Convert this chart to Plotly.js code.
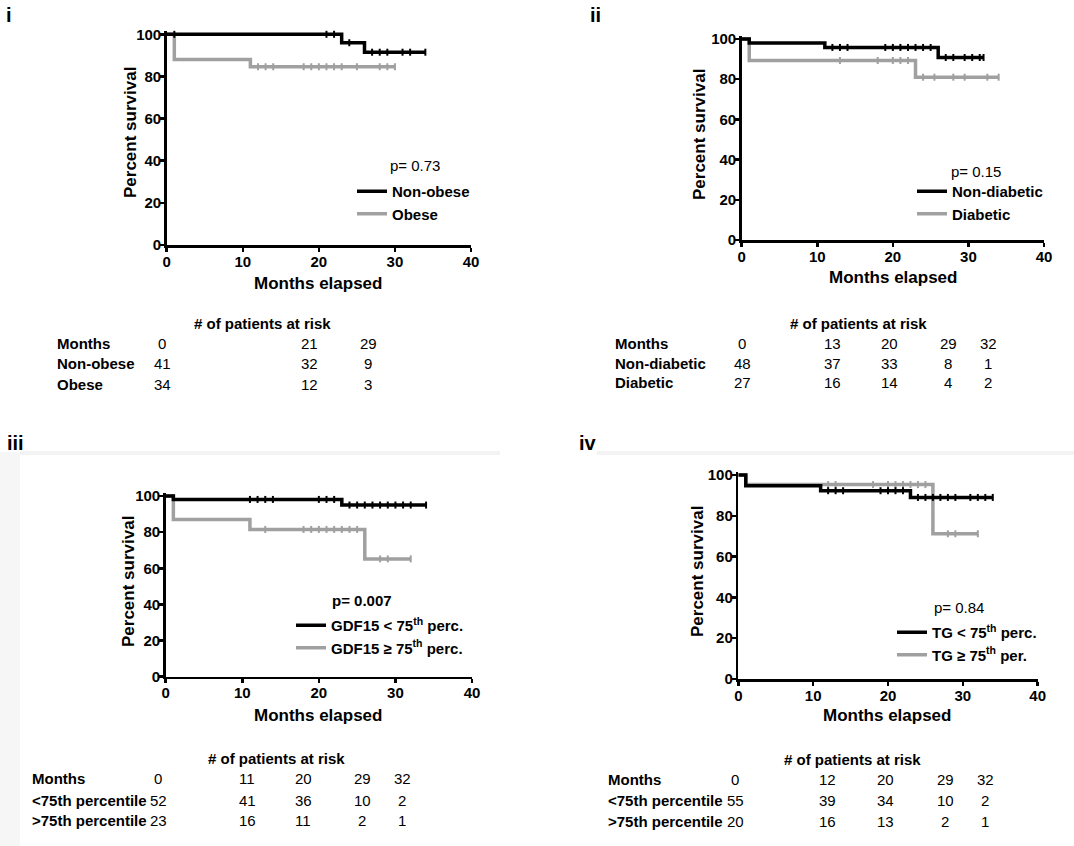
<!DOCTYPE html>
<html>
<head>
<meta charset="utf-8">
<script src="https://cdn.plot.ly/plotly-3.0.1.min.js"></script>
<style>
  html, body { margin: 0; padding: 0; background: #fff; }
  #chart { width: 1074px; height: 846px; }
</style>
</head>
<body>
<div id="chart"></div>
<script>
// ---- panel i : obesity ----
const nonObeseTimes = [0, 23, 26, 34];
const nonObeseSurv = [100, 96, 91.5, 91.5];
const nonObeseCensored = [1, 21, 22, 24, 27, 28, 29, 31, 32, 34];
const obeseTimes = [0, 1, 11, 30];
const obeseSurv = [100, 88, 84.6, 84.6];
const obeseCensored = [12, 13, 14, 18, 19, 20, 21, 22, 23, 25, 28, 29, 30];

// ---- panel ii : diabetes ----
const nonDiabTimes = [0, 1, 11, 26, 32];
const nonDiabSurv = [100, 98, 95.8, 90.8, 90.8];
const nonDiabCensored = [12, 13, 14, 19, 20, 21, 22, 23, 24, 25, 27, 28, 29.5, 30.5, 31.5, 32];
const diabTimes = [0, 1, 23, 34];
const diabSurv = [100, 89.3, 81, 81];
const diabCensored = [13, 18, 20, 21, 22, 24, 25.5, 28, 29.5, 32.5, 34];

// ---- panel iii : GDF15 ----
const gdfLowTimes = [0, 1, 23, 34];
const gdfLowSurv = [100, 98.1, 95, 95];
const gdfLowCensored = [11, 12, 13, 14, 20, 21, 22, 24, 25, 26, 27, 28, 29, 30, 31, 32, 34];
const gdfHighTimes = [0, 1, 11, 26, 32];
const gdfHighSurv = [100, 87, 81.5, 65.2, 65.2];
const gdfHighCensored = [13, 18, 19, 20, 21, 22, 23, 24, 25, 28, 29, 32];

// ---- panel iv : TG ----
const tgLowTimes = [0, 1, 11, 23, 34];
const tgLowSurv = [100, 94.7, 92.3, 89, 89];
const tgLowCensored = [12, 13, 14, 19, 20, 21, 22, 24, 25, 26, 27, 28, 29, 31, 32, 33, 34];
const tgHighTimes = [0, 1, 26, 32];
const tgHighSurv = [100, 95.3, 71.2, 71.2];
const tgHighCensored = [12, 13, 18, 20, 21, 22, 23, 24, 25, 28, 29, 32];

// ---- patients at risk tables ----
const riskMonthsI = [0, 21, 29];
const riskNonObese = [41, 32, 9];
const riskObese = [34, 12, 3];
const riskMonthsII = [0, 13, 20, 29, 32];
const riskNonDiab = [48, 37, 33, 8, 1];
const riskDiab = [27, 16, 14, 4, 2];
const riskMonthsIII = [0, 11, 20, 29, 32];
const riskGdfLow = [52, 41, 36, 10, 2];
const riskGdfHigh = [23, 16, 11, 2, 1];
const riskMonthsIV = [0, 12, 20, 29, 32];
const riskTgLow = [55, 39, 34, 10, 2];
const riskTgHigh = [20, 16, 13, 2, 1];

const W = 1074, H = 846;
const FONT = "Liberation Sans, Arial, sans-serif";
const BLACK = "#000000";
const GREY = "#a0a0a0";
const Y_PAD = 1.5; // headroom above 100 % so the top line is not clipped

// pixel -> paper helpers
const px = (x) => x / W;
const py = (y) => 1 - y / H;

function survivalAt(times, surv, t) {
  let s = surv[0];
  for (let i = 0; i < times.length; i++) {
    if (times[i] <= t) s = surv[i];
  }
  return s;
}

const data = [];

function addCurve(times, surv, censored, name, color, n, rank) {
  const ax = n === 1 ? "" : n;
  data.push({
    x: times, y: surv, name: name,
    mode: "lines", type: "scatter",
    line: { shape: "hv", color: color, width: 3.5 },
    xaxis: "x" + ax, yaxis: "y" + ax,
    legend: "legend" + ax, legendrank: rank,
    cliponaxis: false, hoverinfo: "skip",
  });
  // censored patients: small ticks on the curve
  data.push({
    x: censored, y: censored.map((t) => survivalAt(times, surv, t)),
    mode: "markers", type: "scatter", showlegend: false,
    marker: { symbol: "line-ns-open", size: 5, color: color, line: { color: color, width: 2 } },
    xaxis: "x" + ax, yaxis: "y" + ax,
    cliponaxis: false, hoverinfo: "skip",
  });
}

// grey first so black sits on top
addCurve(obeseTimes, obeseSurv, obeseCensored, "Obese", GREY, 1, 2);
addCurve(nonObeseTimes, nonObeseSurv, nonObeseCensored, "Non-obese", BLACK, 1, 1);
addCurve(diabTimes, diabSurv, diabCensored, "Diabetic", GREY, 2, 2);
addCurve(nonDiabTimes, nonDiabSurv, nonDiabCensored, "Non-diabetic", BLACK, 2, 1);
addCurve(gdfHighTimes, gdfHighSurv, gdfHighCensored, "GDF15 \u2265 75<sup>th</sup> perc.", GREY, 3, 2);
addCurve(gdfLowTimes, gdfLowSurv, gdfLowCensored, "GDF15 &lt; 75<sup>th</sup> perc.", BLACK, 3, 1);
addCurve(tgHighTimes, tgHighSurv, tgHighCensored, "TG \u2265 75<sup>th</sup> per.", GREY, 4, 2);
addCurve(tgLowTimes, tgLowSurv, tgLowCensored, "TG &lt; 75<sup>th</sup> perc.", BLACK, 4, 1);

const tickFont = { family: FONT, size: 15, weight: "bold", color: BLACK };

function xAxis(x0, x1, anchor) {
  return {
    domain: [px(x0), px(x1)], anchor: anchor, range: [0, 40], dtick: 10,
    ticks: "outside", ticklen: 4, tickwidth: 2.5, tickcolor: BLACK,
    ticklabelstandoff: -3,
    showline: true, linewidth: 2.5, linecolor: BLACK,
    showgrid: false, zeroline: false, fixedrange: true, tickfont: tickFont,
  };
}
// yTop = pixel of 100 %, yBottom = pixel of 0 %
function yAxis(yTop, yBottom, anchor) {
  const perUnit = (yBottom - yTop) / 100;
  return {
    domain: [py(yBottom), py(yTop - Y_PAD * perUnit)], anchor: anchor,
    range: [0, 100 + Y_PAD], tick0: 0, dtick: 20,
    ticks: "outside", ticklen: 4, tickwidth: 2.5, tickcolor: BLACK,
    ticklabelstandoff: -4,
    showline: true, linewidth: 2.5, linecolor: BLACK,
    showgrid: false, zeroline: false, fixedrange: true, tickfont: tickFont,
  };
}

function legendAt(xText, yTop) {
  return {
    x: px(xText - 43), y: py(yTop), xanchor: "left", yanchor: "top",
    bgcolor: "rgba(0,0,0,0)", itemwidth: 30, tracegroupgap: 0,
    font: { family: FONT, size: 15, weight: "bold", color: BLACK },
  };
}

const annotations = [];
function text(str, x, y, opts) {
  annotations.push(Object.assign({
    text: str, x: px(x), y: py(y), xref: "paper", yref: "paper",
    showarrow: false, xanchor: "center", yanchor: "middle",
    font: { family: FONT, size: 15, color: BLACK },
  }, opts || {}));
}
const bold = (size) => ({ family: FONT, size: size, weight: "bold", color: BLACK });

// panel letters
text("i", 4, 15, { xanchor: "left", font: bold(20) });
text("ii", 588, 15, { xanchor: "left", font: bold(20) });
text("iii", 5, 443, { xanchor: "left", font: bold(20) });
text("iv", 577, 443, { xanchor: "left", font: bold(20) });

// axis titles
const axisTitles = [
  [318, 283, 130, 133],
  [893, 277, 700, 135],
  [318, 715, 128, 582],
  [887, 715, 697, 572],
];
axisTitles.forEach(([xx, xy, yx, yy]) => {
  text("Months elapsed", xx, xy, { font: bold(17) });
  text("Percent survival", yx, yy, { font: bold(17), textangle: -90 });
});

// p-values
text("p= 0.73", 415, 166);
text("p= 0.15", 976, 171);
text("p= 0.007", 362, 600, { font: bold(15) });
text("p= 0.84", 959, 607);

// risk tables
function riskTable(titleX, titleY, labelX, colX, rowY, labels, rows) {
  text("# of patients at risk", titleX, titleY, { font: bold(15) });
  labels.forEach((lab, r) => {
    text(lab, labelX, rowY[r], { xanchor: "left", font: bold(15) });
    rows[r].forEach((v, c) => text(String(v), colX[c], rowY[r]));
  });
}
riskTable(262, 323, 55, [162, 310, 368], [343, 364, 384],
  ["Months", "Non-obese", "Obese"], [riskMonthsI, riskNonObese, riskObese]);
riskTable(858, 323, 613, [742, 832, 889, 948, 988], [343, 363, 383],
  ["Months", "Non-diabetic", "Diabetic"], [riskMonthsII, riskNonDiab, riskDiab]);
riskTable(276, 758, 30, [158, 247, 303, 362, 402], [778, 800, 820],
  ["Months", "<75th percentile", ">75th percentile"], [riskMonthsIII, riskGdfLow, riskGdfHigh]);
riskTable(852, 759, 606, [735, 827, 885, 945, 985], [779, 800, 821],
  ["Months", "<75th percentile", ">75th percentile"], [riskMonthsIV, riskTgLow, riskTgHigh]);

// faint panel frame of the lower half
const shapes = [
  { type: "rect", xref: "paper", yref: "paper", x0: 0, x1: px(20), y0: 0, y1: py(452), fillcolor: "#f6f6f6", line: { width: 0 }, layer: "below" },
  { type: "rect", xref: "paper", yref: "paper", x0: px(20), x1: px(500), y0: py(455), y1: py(451), fillcolor: "#f3f3f3", line: { width: 0 }, layer: "below" },
  { type: "rect", xref: "paper", yref: "paper", x0: px(597), x1: 1, y0: py(455), y1: py(451), fillcolor: "#f3f3f3", line: { width: 0 }, layer: "below" },
];

const layout = {
  width: W, height: H,
  margin: { l: 0, r: 0, t: 0, b: 0 },
  paper_bgcolor: "#ffffff", plot_bgcolor: "rgba(0,0,0,0)",
  showlegend: true,
  xaxis: xAxis(166.7, 471, "y"),
  yaxis: yAxis(34.3, 245, "x"),
  xaxis2: xAxis(741.7, 1044, "y2"),
  yaxis2: yAxis(39, 240, "x2"),
  xaxis3: xAxis(165.7, 472, "y3"),
  yaxis3: yAxis(496, 676.7, "x3"),
  xaxis4: xAxis(738.3, 1037.7, "y4"),
  yaxis4: yAxis(475, 679, "x4"),
  legend: legendAt(395, 175),
  legend2: legendAt(955, 175),
  legend3: legendAt(334, 609),
  legend4: legendAt(935, 616),
  annotations: annotations,
  shapes: shapes,
};

Plotly.newPlot("chart", data, layout, { displayModeBar: false, staticPlot: true });
</script>
</body>
</html>
